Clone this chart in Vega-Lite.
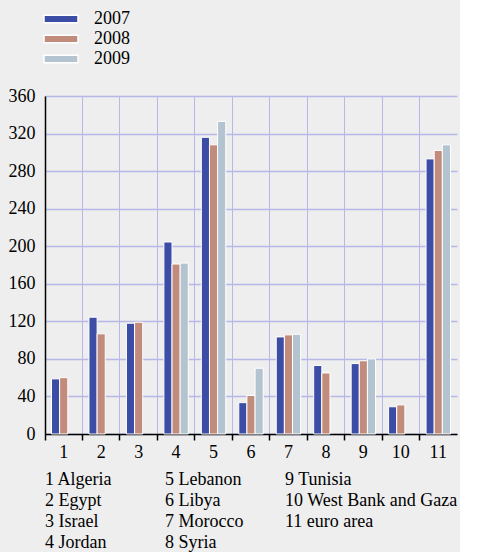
{
  "$schema": "https://vega.github.io/schema/vega-lite/v6.json",
  "background": "#eeeeee",
  "padding": {"left": 8, "top": 8, "right": 2, "bottom": 0},
  "spacing": 10,
  "config": {
    "font": "Liberation Serif",
    "view": {"stroke": null},
    "axis": {"labelFont": "Liberation Serif", "labelFontSize": 18, "labelColor": "black"},
    "legend": {"labelFont": "Liberation Serif", "labelFontSize": 18, "labelColor": "black"}
  },
  "vconcat": [
    {
      "width": 412,
      "height": 338,
      "data": {"values": [
        {"country": 1, "year": "2007", "value": 58.7},
        {"country": 1, "year": "2008", "value": 60},
        {"country": 2, "year": "2007", "value": 124.4},
        {"country": 2, "year": "2008", "value": 106.7},
        {"country": 3, "year": "2007", "value": 118},
        {"country": 3, "year": "2008", "value": 119},
        {"country": 4, "year": "2007", "value": 204.5},
        {"country": 4, "year": "2008", "value": 181},
        {"country": 4, "year": "2009", "value": 182},
        {"country": 5, "year": "2007", "value": 316},
        {"country": 5, "year": "2008", "value": 308},
        {"country": 5, "year": "2009", "value": 333},
        {"country": 6, "year": "2007", "value": 33.4},
        {"country": 6, "year": "2008", "value": 41},
        {"country": 6, "year": "2009", "value": 70},
        {"country": 7, "year": "2007", "value": 103.4},
        {"country": 7, "year": "2008", "value": 105.6},
        {"country": 7, "year": "2009", "value": 106.2},
        {"country": 8, "year": "2007", "value": 73},
        {"country": 8, "year": "2008", "value": 65},
        {"country": 9, "year": "2007", "value": 75},
        {"country": 9, "year": "2008", "value": 78},
        {"country": 9, "year": "2009", "value": 80},
        {"country": 10, "year": "2007", "value": 29},
        {"country": 10, "year": "2008", "value": 31},
        {"country": 11, "year": "2007", "value": 293},
        {"country": 11, "year": "2008", "value": 302},
        {"country": 11, "year": "2009", "value": 308}
      ]},
      "mark": {"type": "bar", "stroke": "white", "strokeWidth": 1},
      "encoding": {
        "x": {
          "field": "country", "type": "ordinal", "title": null,
          "scale": {"paddingInner": 0, "paddingOuter": 0},
          "axis": {
            "bandPosition": 0, "labelAngle": 0, "grid": true, "gridColor": "#b8b8e8", "gridWidth": 1,
            "ticks": true, "tickColor": "black", "tickSize": 6, "tickWidth": 1.5,
            "domainColor": "black", "domainWidth": 1.5, "labelPadding": 3
          }
        },
        "xOffset": {"field": "year", "type": "nominal", "scale": {"domain": ["2007", "2008", "2009"], "paddingInner": 0, "paddingOuter": 0.8}},
        "y": {
          "field": "value", "type": "quantitative", "title": null,
          "scale": {"domain": [0, 360], "nice": false},
          "axis": {
            "orient": "left", "values": [0, 40, 80, 120, 160, 200, 240, 280, 320, 360],
            "grid": true, "gridColor": "#b8b8e8", "gridWidth": 1.5, "ticks": false,
            "domainColor": "black", "domainWidth": 1.5, "labelPadding": 10
          }
        },
        "color": {
          "field": "year", "type": "nominal",
          "scale": {"domain": ["2007", "2008", "2009"], "range": ["#3b4da4", "#c28c7c", "#b3c3cf"]},
          "legend": {
            "title": null, "orient": "none", "legendX": 5, "legendY": -88, "direction": "vertical",
            "symbolType": "M-1.7,-0.38H1.7V0.38H-1.7Z", "symbolSize": 400,
            "symbolStrokeColor": "white", "symbolStrokeWidth": 1.5, "symbolOpacity": 1,
            "labelOffset": 22, "rowPadding": 0
          }
        }
      }
    },
    {
      "width": 240,
      "height": 63,
      "data": {"values": [
        {"col": 1, "row": 1, "label": "1 Algeria"},
        {"col": 1, "row": 2, "label": "2 Egypt"},
        {"col": 1, "row": 3, "label": "3 Israel"},
        {"col": 1, "row": 4, "label": "4 Jordan"},
        {"col": 2, "row": 1, "label": "5 Lebanon"},
        {"col": 2, "row": 2, "label": "6 Libya"},
        {"col": 2, "row": 3, "label": "7 Morocco"},
        {"col": 2, "row": 4, "label": "8 Syria"},
        {"col": 3, "row": 1, "label": "  9 Tunisia"},
        {"col": 3, "row": 2, "label": "10 West Bank and Gaza"},
        {"col": 3, "row": 3, "label": "11 euro area"}
      ]},
      "mark": {"type": "text", "align": "left", "baseline": "alphabetic", "fontSize": 18, "font": "Liberation Serif", "color": "black"},
      "encoding": {
        "x": {"field": "col", "type": "ordinal", "scale": {"type": "point", "padding": 0}, "axis": null},
        "y": {"field": "row", "type": "ordinal", "scale": {"type": "point", "padding": 0}, "axis": null},
        "text": {"field": "label"}
      }
    }
  ]
}
